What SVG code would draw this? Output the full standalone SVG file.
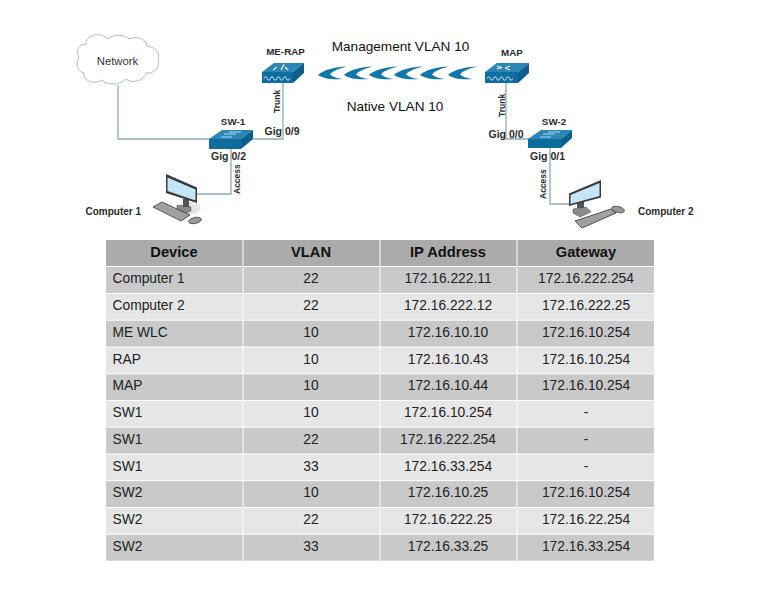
<svg xmlns="http://www.w3.org/2000/svg" xmlns:xlink="http://www.w3.org/1999/xlink" width="768" height="594" viewBox="0 0 768 594">
<style>
text{font-family:"Liberation Sans",Arial,sans-serif;fill:#1c1c1c}
.l{font-size:10.5px;font-weight:bold;fill:#2b2b2b}
.s{font-size:8.5px;font-weight:bold;fill:#2b2b2b}
.n{font-size:9.800px;font-weight:bold;fill:#2b2b2b}
.p{font-size:10px;font-weight:bold;fill:#2b2b2b}
.t{font-size:13.600px;fill:#111}
.c{text-anchor:middle}
.h{font-size:14.7px;font-weight:bold;text-anchor:middle;fill:#111}
.cell{font-size:13.800px;fill:#222}
.conn{fill:none;stroke:#8fa9bd;stroke-width:1.3}
.top{fill:#2a86b4}.front{fill:#0e6d9e}.side{fill:#0a5f8c}
.w{fill:none;stroke:#d8edf6;stroke-width:.9}
.hd{fill:#ababab}.a{fill:#c9c9c9}.b{fill:#e6e6e6}
.dk{fill:#3a3a3a}.sc{fill:#c4e6f6}.kb{fill:#a0a0a0;stroke:#333;stroke-width:.8}.st{fill:#8a8a8a;stroke:#444;stroke-width:.5}
</style>
<defs>
<path id="cres" d="M0 8.500C6 3 17 .5 29 0C22 2 15 4 12 8C16 11 20 12 25 12.500C14 13.500 5 12 0 8.500Z" fill="#0f78a8"/>
</defs>
<rect width="768" height="594" fill="#fff"/>
<g id="connectors">
<path class="conn" d="M118 85V139H210"/>
<path class="conn" d="M253 139H283V83"/>
<path class="conn" d="M231 148V194H197"/>
<path class="conn" d="M506 83V139H530"/>
<path class="conn" d="M550 148V204H570"/>
</g>
<g id="network">
<path d="M92 36C98 33 105 36 108 39C113 34 124 34 129 39C136 36 146 38 147 46C155 47 161 53 158 60C160 68 154 74 146 73C144 81 132 84 126 79C120 85 108 86 102 80C94 85 83 81 84 73C77 71 75 63 79 58C75 51 79 44 86 44C86 40 89 37 92 36Z" fill="#fff" stroke="#a9bdcb" stroke-width="1"/>
<text x="117.500" y="64.500" class="c" style="font-size:11.300px;fill:#333">Network</text>
</g>
<g id="me-rap">
<path class="top" d="M262 72L274 63H304L293 72Z"/>
<path class="front" d="M262 72H293V83H262Z"/>
<path class="side" d="M293 72L304 63V73L293 83Z"/>
<path d="M273 70L277 67M281 70L284 64M288 70L285 67" stroke="#fff" stroke-width="1.100" fill="none"/>
<path class="w" d="M264 78.500a1.600 1.600 0 0 1 3.200 0a1.600 1.600 0 0 0 3.200 0a1.600 1.600 0 0 1 3.200 0a1.600 1.600 0 0 0 3.200 0a1.600 1.600 0 0 1 3.200 0a1.600 1.600 0 0 0 3.200 0a1.600 1.600 0 0 1 3.200 0a1.600 1.600 0 0 0 3.200 0"/>
<text x="285.500" y="55" class="n c">ME-RAP</text>
</g>
<g id="map">
<path class="top" d="M485 72L497 63H529L518 72Z"/>
<path class="front" d="M485 72H518V83H485Z"/>
<path class="side" d="M518 72L529 63V73L518 83Z"/>
<path d="M497 69L502 67M510 66L505 68M497 66L502 68M510 70L505 68" stroke="#fff" stroke-width="1.100" fill="none"/>
<path class="w" d="M487 78.500a1.600 1.600 0 0 1 3.200 0a1.600 1.600 0 0 0 3.200 0a1.600 1.600 0 0 1 3.200 0a1.600 1.600 0 0 0 3.200 0a1.600 1.600 0 0 1 3.200 0a1.600 1.600 0 0 0 3.200 0a1.600 1.600 0 0 1 3.200 0a1.600 1.600 0 0 0 3.200 0"/>
<text x="512" y="56" class="n c">MAP</text>
</g>
<g id="sw-1">
<path class="top" d="M209 139L222 130H253L241 139Z"/>
<path class="front" d="M209 139H241V149H209Z"/>
<path class="side" d="M241 139L253 130V139L241 149Z"/>
<path d="M221 137H232M224 134H236M229 132H241" stroke="#bfe0ee" stroke-width=".9" fill="none"/>
<text x="233" y="125" class="n c">SW-1</text>
</g>
<g id="sw-2">
<path class="top" d="M528 139L541 130H572L561 139Z"/>
<path class="front" d="M528 139H561V148H528Z"/>
<path class="side" d="M561 139L572 130V138L561 148Z"/>
<path d="M540 137H551M543 134H555M548 132H560" stroke="#bfe0ee" stroke-width=".9" fill="none"/>
<text x="554" y="125" class="n c">SW-2</text>
</g>
<g id="wireless">
<use xlink:href="#cres" href="#cres" x="318" y="66.500"/>
<use xlink:href="#cres" href="#cres" x="344" y="66.500"/>
<use xlink:href="#cres" href="#cres" x="369" y="66.500"/>
<use xlink:href="#cres" href="#cres" x="394" y="66.500"/>
<use xlink:href="#cres" href="#cres" x="420" y="66.500"/>
<use xlink:href="#cres" href="#cres" x="448" y="66.500"/>
</g>
<g id="computer-1">
<ellipse cx="190" cy="208" rx="11" ry="6" fill="#e6e6e6"/>
<path class="st" d="M177 205L191 207V211L186 213L177 209Z"/>
<path d="M183 199H189V207H183Z" fill="#555"/>
<path class="dk" d="M166 174L197 187.500V203L166 193Z"/>
<path class="sc" d="M167.500 177.500L195.500 189.500V200.500L167.500 191Z"/>
<path class="kb" d="M153 207L162 202L190 215L181 221Z"/>
<ellipse cx="195" cy="220.500" rx="6.500" ry="3" transform="rotate(-12 195 220.500)" fill="#999" stroke="#333" stroke-width=".7"/>
<text x="85.500" y="215" class="p">Computer 1</text>
</g>
<g id="computer-2">
<path class="st" d="M573 209L586 207L591 212L580 217L573 213Z"/>
<path d="M577 201H584V208H577Z" fill="#555"/>
<path class="dk" d="M569 193.500L601 180V197.500L569 206Z"/>
<path class="sc" d="M570.500 195L599.500 183V196L570.500 204Z"/>
<path class="kb" d="M575 221L611 209L616 213L582 228Z"/>
<ellipse cx="618" cy="209.500" rx="6.500" ry="3" transform="rotate(14 618 209.500)" fill="#999" stroke="#333" stroke-width=".7"/>
<text x="638" y="215" class="p">Computer 2</text>
</g>
<g id="labels">
<text x="400.500" y="51" class="t c">Management VLAN 10</text>
<text x="395" y="111" class="t c">Native VLAN 10</text>
<text x="282" y="135" class="l c">Gig 0/9</text>
<text x="228.500" y="160" class="l c">Gig 0/2</text>
<text x="506" y="137.500" class="l c">Gig 0/0</text>
<text x="547.500" y="160" class="l c">Gig 0/1</text>
<text transform="translate(280 113) rotate(-90)" class="s">Trunk</text>
<text transform="translate(505 117) rotate(-90)" class="s">Trunk</text>
<text transform="translate(240 194) rotate(-90)" class="s">Access</text>
<text transform="translate(546 199) rotate(-90)" class="s">Access</text>
</g>
<g id="table">
<rect class="hd" x="106" y="240" width="136.500" height="26"/><rect class="hd" x="243.500" y="240" width="136" height="26"/><rect class="hd" x="380.500" y="240" width="136" height="26"/><rect class="hd" x="517.500" y="240" width="136.500" height="26"/>
<rect class="a" x="106" y="267" width="136.500" height="26"/><rect class="a" x="243.500" y="267" width="136" height="26"/><rect class="a" x="380.500" y="267" width="136" height="26"/><rect class="a" x="517.500" y="267" width="136.500" height="26"/>
<rect class="b" x="106" y="294" width="136.500" height="25.700"/><rect class="b" x="243.500" y="294" width="136" height="25.700"/><rect class="b" x="380.500" y="294" width="136" height="25.700"/><rect class="b" x="517.500" y="294" width="136.500" height="25.700"/>
<rect class="a" x="106" y="320.700" width="136.500" height="25.800"/><rect class="a" x="243.500" y="320.700" width="136" height="25.800"/><rect class="a" x="380.500" y="320.700" width="136" height="25.800"/><rect class="a" x="517.500" y="320.700" width="136.500" height="25.800"/>
<rect class="b" x="106" y="347.500" width="136.500" height="25.700"/><rect class="b" x="243.500" y="347.500" width="136" height="25.700"/><rect class="b" x="380.500" y="347.500" width="136" height="25.700"/><rect class="b" x="517.500" y="347.500" width="136.500" height="25.700"/>
<rect class="a" x="106" y="374.200" width="136.500" height="25.800"/><rect class="a" x="243.500" y="374.200" width="136" height="25.800"/><rect class="a" x="380.500" y="374.200" width="136" height="25.800"/><rect class="a" x="517.500" y="374.200" width="136.500" height="25.800"/>
<rect class="b" x="106" y="401" width="136.500" height="25.700"/><rect class="b" x="243.500" y="401" width="136" height="25.700"/><rect class="b" x="380.500" y="401" width="136" height="25.700"/><rect class="b" x="517.500" y="401" width="136.500" height="25.700"/>
<rect class="a" x="106" y="427.700" width="136.500" height="25.800"/><rect class="a" x="243.500" y="427.700" width="136" height="25.800"/><rect class="a" x="380.500" y="427.700" width="136" height="25.800"/><rect class="a" x="517.500" y="427.700" width="136.500" height="25.800"/>
<rect class="b" x="106" y="454.500" width="136.500" height="25.700"/><rect class="b" x="243.500" y="454.500" width="136" height="25.700"/><rect class="b" x="380.500" y="454.500" width="136" height="25.700"/><rect class="b" x="517.500" y="454.500" width="136.500" height="25.700"/>
<rect class="a" x="106" y="481.200" width="136.500" height="25.800"/><rect class="a" x="243.500" y="481.200" width="136" height="25.800"/><rect class="a" x="380.500" y="481.200" width="136" height="25.800"/><rect class="a" x="517.500" y="481.200" width="136.500" height="25.800"/>
<rect class="b" x="106" y="508" width="136.500" height="25.700"/><rect class="b" x="243.500" y="508" width="136" height="25.700"/><rect class="b" x="380.500" y="508" width="136" height="25.700"/><rect class="b" x="517.500" y="508" width="136.500" height="25.700"/>
<rect class="a" x="106" y="534.700" width="136.500" height="26"/><rect class="a" x="243.500" y="534.700" width="136" height="26"/><rect class="a" x="380.500" y="534.700" width="136" height="26"/><rect class="a" x="517.500" y="534.700" width="136.500" height="26"/>
<text class="h" x="174" y="256.800">Device</text><text class="h" x="311" y="256.800">VLAN</text><text class="h" x="448" y="256.800">IP Address</text><text class="h" x="586" y="256.800">Gateway</text>
<text class="cell" x="112.500" y="283">Computer 1</text><text class="cell c" x="311" y="283">22</text><text class="cell c" x="448" y="283">172.16.222.11</text><text class="cell c" x="586" y="283">172.16.222.254</text>
<text class="cell" x="112.500" y="310">Computer 2</text><text class="cell c" x="311" y="310">22</text><text class="cell c" x="448" y="310">172.16.222.12</text><text class="cell c" x="586" y="310">172.16.222.25</text>
<text class="cell" x="112.500" y="336.500">ME WLC</text><text class="cell c" x="311" y="336.500">10</text><text class="cell c" x="448" y="336.500">172.16.10.10</text><text class="cell c" x="586" y="336.500">172.16.10.254</text>
<text class="cell" x="112.500" y="363.500">RAP</text><text class="cell c" x="311" y="363.500">10</text><text class="cell c" x="448" y="363.500">172.16.10.43</text><text class="cell c" x="586" y="363.500">172.16.10.254</text>
<text class="cell" x="112.500" y="390">MAP</text><text class="cell c" x="311" y="390">10</text><text class="cell c" x="448" y="390">172.16.10.44</text><text class="cell c" x="586" y="390">172.16.10.254</text>
<text class="cell" x="112.500" y="417">SW1</text><text class="cell c" x="311" y="417">10</text><text class="cell c" x="448" y="417">172.16.10.254</text><text class="cell c" x="586" y="417">-</text>
<text class="cell" x="112.500" y="443.500">SW1</text><text class="cell c" x="311" y="443.500">22</text><text class="cell c" x="448" y="443.500">172.16.222.254</text><text class="cell c" x="586" y="443.500">-</text>
<text class="cell" x="112.500" y="470.500">SW1</text><text class="cell c" x="311" y="470.500">33</text><text class="cell c" x="448" y="470.500">172.16.33.254</text><text class="cell c" x="586" y="470.500">-</text>
<text class="cell" x="112.500" y="497">SW2</text><text class="cell c" x="311" y="497">10</text><text class="cell c" x="448" y="497">172.16.10.25</text><text class="cell c" x="586" y="497">172.16.10.254</text>
<text class="cell" x="112.500" y="524">SW2</text><text class="cell c" x="311" y="524">22</text><text class="cell c" x="448" y="524">172.16.222.25</text><text class="cell c" x="586" y="524">172.16.22.254</text>
<text class="cell" x="112.500" y="550.500">SW2</text><text class="cell c" x="311" y="550.500">33</text><text class="cell c" x="448" y="550.500">172.16.33.25</text><text class="cell c" x="586" y="550.500">172.16.33.254</text>
</g>
</svg>
